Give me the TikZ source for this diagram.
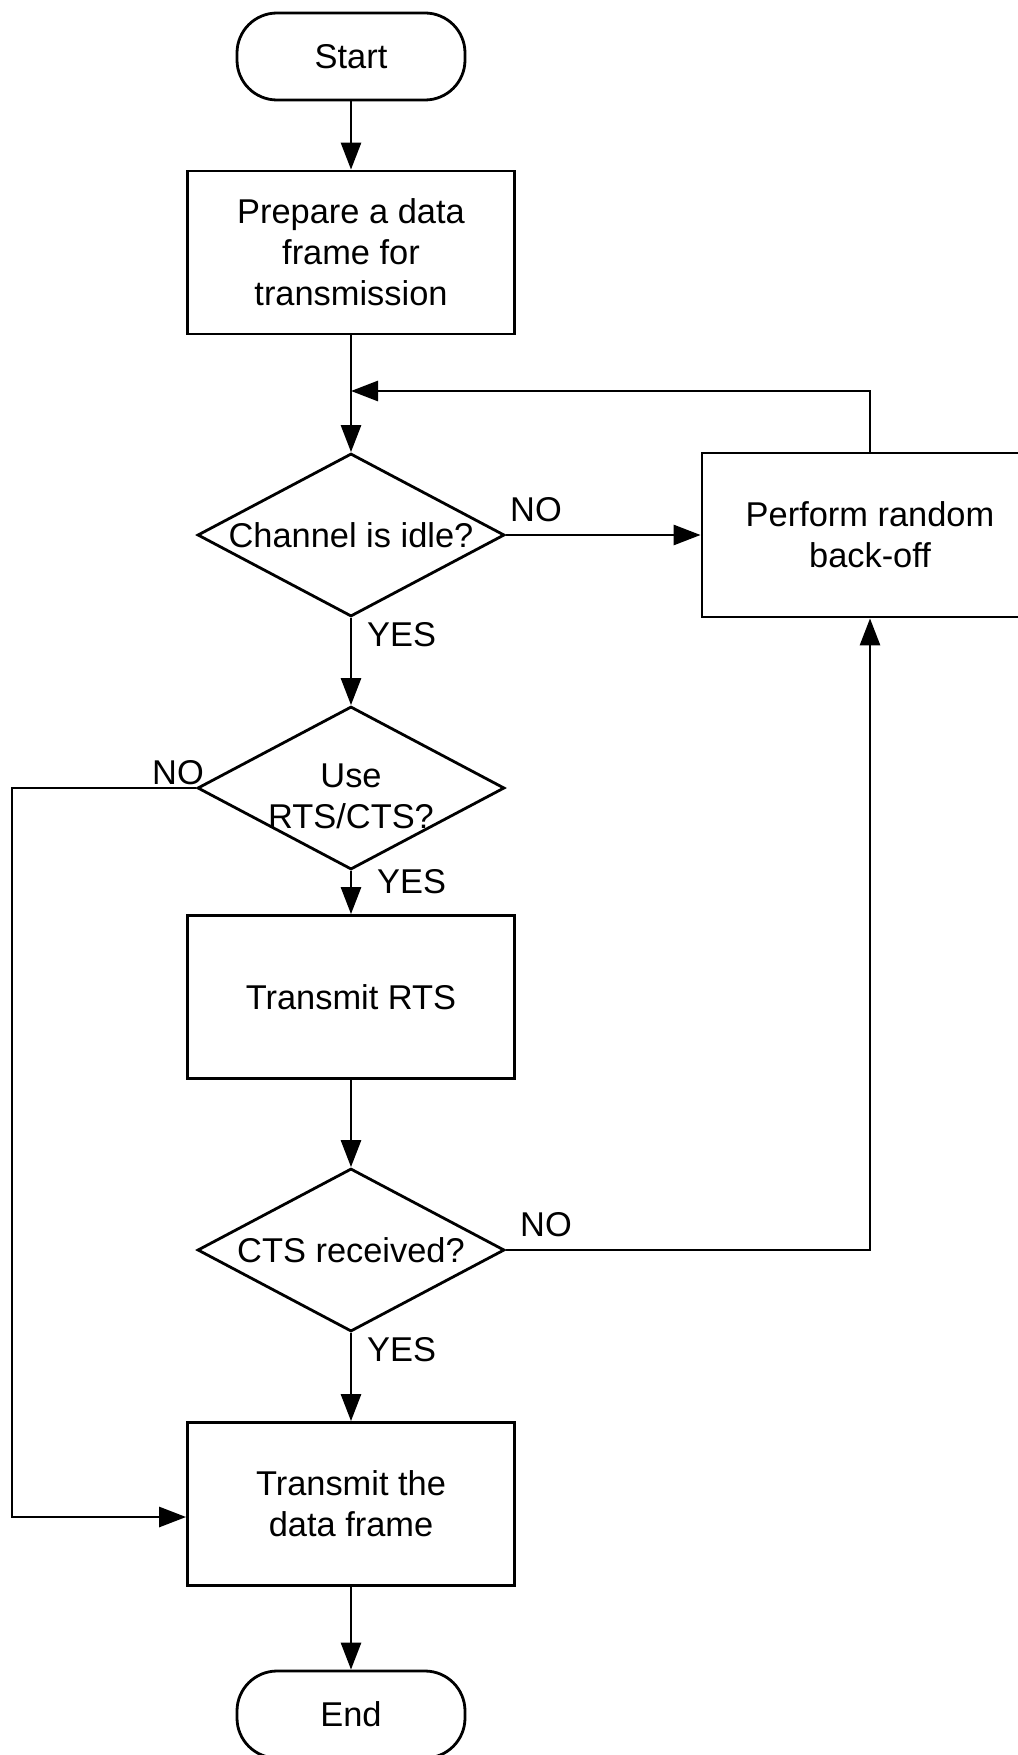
\documentclass[tikz,border=0pt]{standalone}
\usepackage{fontspec}
\setmainfont{Liberation Sans}
\usetikzlibrary{shapes.geometric,arrows.meta}

\begin{document}
\begin{tikzpicture}[x=1pt,y=-1pt,
  every node/.style={font=\fontsize{34.4}{41}\selectfont},
  flow/.style={line width=2.8pt},
  arr/.style={flow,-{Triangle[length=27pt,width=20pt]}},
  procbox/.style={draw,line width=2.8pt,minimum width=327pt,minimum height=163pt,inner sep=0pt,align=center},
  terminal/.style={draw,line width=2.8pt,rounded corners=40pt,minimum width=228pt,minimum height=87pt,inner sep=0pt},
  decision/.style={draw,diamond,line width=2.8pt,minimum width=307pt,minimum height=163pt,inner sep=0pt},
  tag/.style={inner sep=0pt,anchor=west}]

% page frame
\useasboundingbox (0,0) rectangle (1017,1755);

% main column
\node[terminal] (start) at (351,56.5) {Start};
\node[procbox] (prep) at (351,252.5) {Prepare a data\\frame for\\transmission};
\node[decision, label={center:Channel is idle?}] (idle) at (351,535) {};
\node[decision, label={[align=center,yshift=-8pt]center:Use\\RTS/CTS?}] (usertscts) at (351,788) {};
\node[procbox] (rts) at (351,997) {Transmit RTS};
\node[decision, label={center:CTS received?}] (cts) at (351,1250) {};
\node[procbox] (data) at (351,1504) {Transmit the\\data frame};
\node[terminal] (end) at (351,1714.5) {End};

% side branch
\node[procbox,minimum width=336pt,minimum height=164pt] (backoff) at (870,535) {Perform random\\back-off};

% routing points
\coordinate (join) at (351,391);
\coordinate (leftrail) at (12,0);
\coordinate (dataentry) at ([yshift=-13pt]data.west);

% connectors
\draw[arr] (start) -- (prep);
\draw[flow] (prep) -- (join);
\draw[arr] (join) -- (idle.north);
\draw[arr] (idle.east) -- (backoff.west);
\draw[arr] (backoff.north) |- (join);
\draw[arr] (idle.south) -- (usertscts.north);
\draw[arr] (usertscts.south) -- (rts.north);
\draw[arr] (usertscts.west) -| (leftrail |- dataentry) -- (dataentry);
\draw[arr] (rts.south) -- (cts.north);
\draw[arr] (cts.east) -| (backoff.south);
\draw[arr] (cts.south) -- (data.north);
\draw[arr] (data.south) -- (end.north);

% branch labels
\node[tag] (idleno) at (510,510) {NO};
\node[tag] (idleyes) at (367,635) {YES};
\node[tag] (usertsno) at (152,773) {NO};
\node[tag] (usertsyes) at (377,882) {YES};
\node[tag] (ctsno) at (520,1225) {NO};
\node[tag] (ctsyes) at (367,1350) {YES};
\end{tikzpicture}
\end{document}
